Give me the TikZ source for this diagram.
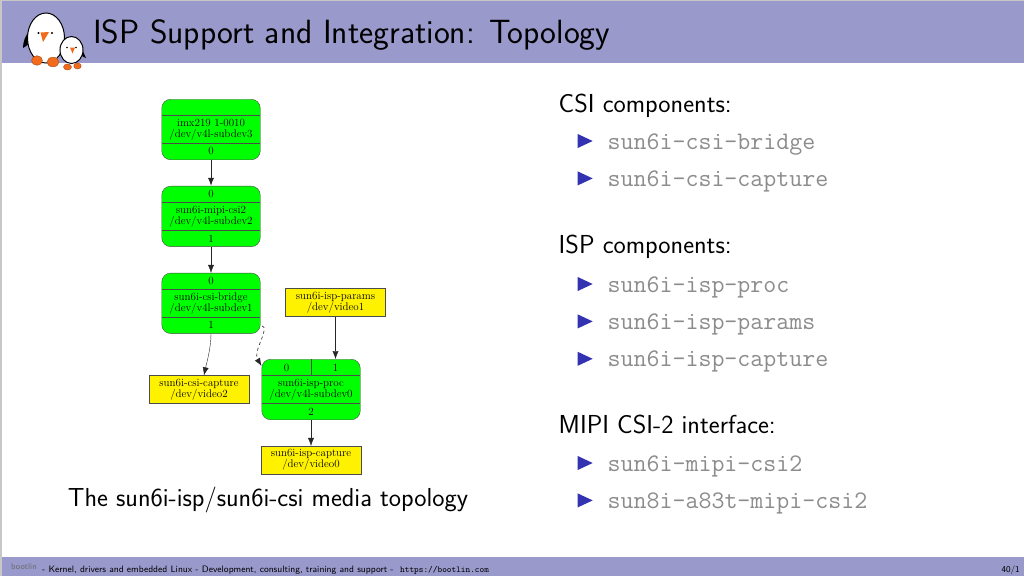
\documentclass[tikz,border=0pt]{standalone}
\usepackage{fontspec}
\usepackage{xcolor}
\usetikzlibrary{positioning,arrows.meta,calc,shapes.geometric}
\definecolor{bannerblue}{HTML}{9999CC}
\definecolor{bulletblue}{HTML}{3333B2}
\definecolor{footgray}{HTML}{6A6A6A}
\definecolor{penguinorange}{HTML}{F26A1B}
\tikzset{
  sub/.style={draw=black!70,fill=green,rounded corners=9pt,inner sep=0pt,minimum width=98.5pt,minimum height=60.5pt,align=center,font=\fontsize{11}{11}\selectfont},
  vid/.style={draw=black!70,fill=yellow,inner sep=0pt,minimum width=100pt,minimum height=28pt,align=center,font=\fontsize{11}{11}\selectfont},
  prt/.style={inner sep=0pt,font=\fontsize{11}{11}\selectfont},
  lnk/.style={-{Latex[length=8pt,width=6pt]},black!85},
  head/.style={inner sep=0pt,anchor=west,text height=17pt,text depth=5pt,font=\fontsize{26}{28}\sffamily},
  itm/.style={inner sep=0pt,anchor=west,text height=13pt,text depth=4pt,text=black!45,font=\fontsize{25.2}{28}\ttfamily},
  bul/.style={isosceles triangle,isosceles triangle stretches,fill=bulletblue,inner sep=0pt,minimum height=15pt,minimum width=14pt},
  pbody/.style={fill=white,draw=black,line width=1pt},
  pfoot/.style={fill=penguinorange,draw=penguinorange!70!black,line width=.4pt},
}
\begin{document}
\begin{tikzpicture}[x=1pt,y=-1pt,node distance=26pt]
  \useasboundingbox (0,0) rectangle (1024,576);
  % page and banners
  \fill[white] (0,0) rectangle (1024,576);
  \fill[black!22] (0,0) rectangle (1024,1.2);
  \fill[black!22] (0,0) rectangle (1.8,576);
  \fill[bannerblue] (1.8,1.2) rectangle (1024,63);
  \fill[bannerblue] (1.8,557) rectangle (1024,576);
  % penguins
  \fill[black] (30,30) .. controls (25,36) and (23,42) .. (23,48) .. controls (27,46) and (30,43) .. (32,38) -- cycle;
  \draw[pbody] (46,38) ellipse (18.5pt and 25pt);
  \fill[black] (38.5,33) circle (1.2pt);
  \fill[black] (52,33) circle (1.2pt);
  \fill[penguinorange] (40.5,32.5) -- (49,32) -- (43,42) -- cycle;
  \draw[pfoot] (37,60.5) ellipse (5.5pt and 4.8pt);
  \draw[pfoot] (53,62) ellipse (6pt and 4.8pt);
  \fill[black] (81,47) -- (86,58) -- (82,56) -- cycle;
  \draw[pbody] (71.5,50) ellipse (11.5pt and 13.5pt);
  \fill[black] (67,47.5) circle (.9pt);
  \fill[black] (76,47.5) circle (.9pt);
  \fill[penguinorange] (70,47.5) -- (75,47.5) -- (72.5,53.5) -- cycle;
  \draw[pfoot] (67.5,67) ellipse (4pt and 3pt);
  \draw[pfoot] (77.5,66) ellipse (3.7pt and 3pt);
  % title and footer
  \node[inner sep=0pt,anchor=base west,font=\fontsize{33.6}{36}\sffamily] (title) at (93,43.5) {ISP Support and Integration: Topology};
  \node[inner sep=0pt,anchor=base west,text=footgray,font=\fontsize{8.5}{9}\sffamily] (logo) at (11,569) {bootlin};
  \node[inner sep=0pt,anchor=base west,font=\fontsize{9.3}{10}\sffamily] (foot) at (42,572) {- Kernel, drivers and embedded Linux - Development, consulting, training and support -};
  \node[inner sep=0pt,anchor=base west,font=\fontsize{8.9}{10}\ttfamily] (url) at (400,572) {https://bootlin.com};
  \node[inner sep=0pt,anchor=base east,font=\fontsize{8.9}{10}\sffamily] (page) at (1020,572) {40/1};
  % media graph
  \node[sub] (imx) at (211,129.5) {imx219 1-0010\\/dev/v4l-subdev3};
  \node[sub,below=of imx] (mipi) {sun6i-mipi-csi2\\/dev/v4l-subdev2};
  \node[sub,below=of mipi] (bridge) {sun6i-csi-bridge\\/dev/v4l-subdev1};
  \node[sub] (proc) at (311,389.5) {sun6i-isp-proc\\/dev/v4l-subdev0};
  \node[vid] (params) at (335.5,302.5) {sun6i-isp-params\\/dev/video1};
  \node[vid] (csicap) at (199,389.5) {sun6i-csi-capture\\/dev/video2};
  \node[vid,below=of proc] (ispcap) {sun6i-isp-capture\\/dev/video0};
  \foreach \n in {imx,mipi,bridge,proc} {
    \draw[black!70] ([yshift=-16.5pt]\n.north west) -- ([yshift=-16.5pt]\n.north east);
    \draw[black!70] ([yshift=16.5pt]\n.south west) -- ([yshift=16.5pt]\n.south east);
  }
  \draw[black!70] (proc.north) -- ([yshift=-16.5pt]proc.north);
  \node[prt] (imxo) at ([yshift=8.5pt]imx.south) {0};
  \node[prt] (mipii) at ([yshift=-8.5pt]mipi.north) {0};
  \node[prt] (mipio) at ([yshift=8.5pt]mipi.south) {1};
  \node[prt] (bridgei) at ([yshift=-8.5pt]bridge.north) {0};
  \node[prt] (bridgeo) at ([yshift=8.5pt]bridge.south) {1};
  \node[prt] (proci) at ([xshift=-24.5pt,yshift=-8.5pt]proc.north) {0};
  \node[prt] (procj) at ([xshift=24.5pt,yshift=-8.5pt]proc.north) {1};
  \node[prt] (proco) at ([yshift=8.5pt]proc.south) {2};
  \draw[lnk,line width=1pt] (imx) -- (mipi);
  \draw[lnk] (mipi) -- (bridge);
  \draw[lnk] (bridge.south) .. controls ([yshift=-14pt]bridge.south) and ([xshift=8pt,yshift=14pt]csicap.north) .. ([xshift=5pt]csicap.north);
  \draw[lnk,dashed,line width=.6pt] ([xshift=1.5pt,yshift=8pt]bridge.south east) .. controls ([xshift=10pt,yshift=6pt]bridge.south east) and ([xshift=-9pt,yshift=8pt]proc.north west) .. ([yshift=-7pt]proc.north west);
  \draw[lnk] (params) -- (procj |- proc.north);
  \draw[lnk] (proc) -- (ispcap);
  \node[inner sep=0pt,anchor=base,font=\fontsize{26}{28}\sffamily] (caption) at (268,506.5) {The sun6i-isp/sun6i-csi media topology};
  % component lists
  \node[head] (csi) at (558.5,106.5) {CSI components:};
  \node[itm] (bridgetxt) at (607.5,144.5) {sun6i-csi-bridge};
  \node[itm,below=20pt of bridgetxt.south west,anchor=north west] (csitxt) {sun6i-csi-capture};
  \node[head] (isp) at (558.5,247.5) {ISP components:};
  \node[itm] (proctxt) at (607.5,287.5) {sun6i-isp-proc};
  \node[itm,below=20pt of proctxt.south west,anchor=north west] (paramstxt) {sun6i-isp-params};
  \node[itm,below=20pt of paramstxt.south west,anchor=north west] (captxt) {sun6i-isp-capture};
  \node[head] (mipih) at (558.5,427.5) {MIPI CSI-2 interface:};
  \node[itm] (mipitxt) at (607.5,466.5) {sun6i-mipi-csi2};
  \node[itm,below=20pt of mipitxt.south west,anchor=north west] (a83txt) {sun8i-a83t-mipi-csi2};
  \foreach \t in {bridgetxt,csitxt,proctxt,paramstxt,captxt,mipitxt,a83txt} {
    \node[bul,anchor=west] (b\t) at ([xshift=-30pt,yshift=3.5pt]\t.west) {};
  }
\end{tikzpicture}
\end{document}
